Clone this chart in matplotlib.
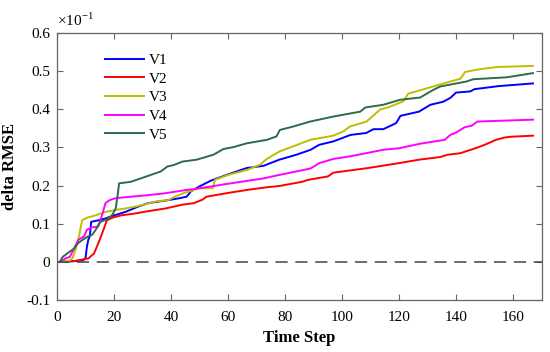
import matplotlib
matplotlib.use("Agg")
import matplotlib.pyplot as plt
from matplotlib.ticker import FixedLocator, FuncFormatter

plt.rcParams['font.family'] = ['Liberation Serif', 'DejaVu Serif']
plt.rcParams['mathtext.fontset'] = 'custom'
plt.rcParams['mathtext.rm'] = 'Liberation Serif'

# values (time step, delta RMSE in units of 1e-1)
t_v1 = [1, 6, 9, 10, 10.5, 11, 11.5, 12, 14.5, 17, 20.5, 24, 28.5, 32, 35.5, 39, 43, 45.5, 47, 50,
        54, 59.5, 66.5, 72.5, 78, 84, 89, 92, 97, 103, 108.5, 111, 114.5, 119, 120.5, 127, 131,
        135.5, 138, 140, 145, 146.5, 155, 167]
v1 = [0, 0.002, 0.004, 0.009, 0.04, 0.058, 0.067, 0.105, 0.109, 0.114, 0.123, 0.131, 0.145, 0.154,
      0.158, 0.162, 0.167, 0.171, 0.185, 0.198, 0.213, 0.228, 0.246, 0.252, 0.268, 0.281, 0.294,
      0.307, 0.316, 0.333, 0.338, 0.348, 0.348, 0.364, 0.383, 0.394, 0.412, 0.42, 0.43, 0.444,
      0.447, 0.453, 0.461, 0.468]

t_v2 = [1, 6, 11, 13, 14, 15, 16.5, 17.5, 19.5, 22.5, 27.5, 32, 38, 44, 48, 51, 52.5, 61, 67, 74,
        78, 86, 88, 95, 97, 109, 120, 127, 134.5, 137, 141.5, 146, 149, 151, 154, 157, 159, 167]
v2 = [0, 0.002, 0.009, 0.022, 0.04, 0.058, 0.088, 0.109, 0.116, 0.122, 0.127, 0.133, 0.14, 0.15,
      0.154, 0.163, 0.171, 0.182, 0.189, 0.196, 0.199, 0.21, 0.215, 0.224, 0.234, 0.246, 0.259,
      0.268, 0.275, 0.281, 0.285, 0.296, 0.304, 0.31, 0.32, 0.326, 0.328, 0.331]

t_v3 = [1, 4.3, 5.4, 6.5, 7.7, 8.8, 10.6, 13.5, 17, 20.4, 24, 27.5, 31, 34.5, 39, 41.4, 44.3, 50,
        54.7, 55.4, 60, 66.6, 71.3, 73.6, 78.2, 82.9, 88.8, 96.9, 100.4, 102.8, 108.6, 113.3,
        116.8, 121.5, 123.2, 127.4, 132, 138, 141.5, 143.2, 147.3, 154.3, 167]
v3 = [0, 0.003, 0.009, 0.031, 0.066, 0.109, 0.116, 0.122, 0.131, 0.136, 0.14, 0.145, 0.151, 0.158,
      0.162, 0.171, 0.18, 0.193, 0.193, 0.215, 0.228, 0.241, 0.255, 0.27, 0.29, 0.303, 0.32, 0.331,
      0.342, 0.355, 0.368, 0.399, 0.407, 0.421, 0.441, 0.45, 0.46, 0.473, 0.48, 0.498, 0.504,
      0.511, 0.514]

t_v4 = [1, 3, 4.5, 6, 7.5, 9.5, 10.5, 12, 14.5, 16, 17, 18.5, 20.5, 26, 32, 38, 44, 50, 61, 72.5,
        78, 89, 92, 97, 103, 114.5, 120, 127.5, 136, 138, 140, 143, 145.5, 147.5, 167]
v4 = [0, 0.009, 0.013, 0.035, 0.058, 0.067, 0.084, 0.09, 0.093, 0.127, 0.154, 0.162, 0.167, 0.171,
      0.175, 0.18, 0.187, 0.193, 0.206, 0.219, 0.228, 0.245, 0.259, 0.27, 0.277, 0.294, 0.298,
      0.31, 0.32, 0.333, 0.339, 0.353, 0.357, 0.368, 0.373]

t_v5 = [1, 2, 4.3, 6, 7.2, 9, 11, 12.3, 13.5, 15.2, 17.6, 19.4, 20.6, 21.2, 21.8, 25.9, 29.4, 32.9,
        36.4, 38.7, 41, 44, 49, 54.9, 58.4, 61.9, 66.6, 73.6, 77, 78.2, 82.9, 88.8, 96.9, 106.4,
        108.2, 114.5, 120.3, 127.4, 132, 134.5, 138, 143.7, 146, 157.8, 167]
v5 = [0, 0.013, 0.026, 0.035, 0.048, 0.058, 0.067, 0.071, 0.083, 0.105, 0.112, 0.123, 0.14, 0.17,
      0.206, 0.21, 0.219, 0.228, 0.237, 0.25, 0.254, 0.263, 0.268, 0.281, 0.296, 0.301, 0.311,
      0.32, 0.329, 0.346, 0.355, 0.368, 0.381, 0.394, 0.405, 0.412, 0.425, 0.431, 0.451, 0.46,
      0.465, 0.473, 0.479, 0.484, 0.495]

labels = ['V1', 'V2', 'V3', 'V4', 'V5']
colors = ['#0000FF', '#FF0000', '#BFBF00', '#FF00FF', '#2E6B4C']
x_ticks = [0, 20, 40, 60, 80, 100, 120, 140, 160]
y_ticks = [-0.1, 0, 0.1, 0.2, 0.3, 0.4, 0.5, 0.6]

fig = plt.figure(figsize=(5.5, 3.52), dpi=100)
ax = fig.add_axes([0.1036, 0.1477, 0.881, 0.7583])

series = [(t_v1, v1), (t_v2, v2), (t_v3, v3), (t_v4, v4), (t_v5, v5)]
for (t, v), lab, c in zip(series, labels, colors):
    ax.plot(t, v, color=c, lw=1.4, label=lab)

ax.axhline(0, color='#444444', lw=1.1, ls=(0, (8, 5)))

ax.set_xlim(0, 170)
ax.set_ylim(-0.1, 0.6)
ax.xaxis.set_major_locator(FixedLocator(x_ticks))
ax.yaxis.set_major_locator(FixedLocator(y_ticks))
ax.yaxis.set_major_formatter(FuncFormatter(lambda y, p: '0' if abs(y) < 1e-9 else f'{y:.1f}'))
ax.tick_params(direction='in', top=True, right=True, length=4, width=0.8,
               color='#666666', labelsize=11)
ax.tick_params(axis='x', pad=8)
ax.tick_params(axis='y', pad=5)
for s in ax.spines.values():
    s.set_color('#666666')
    s.set_linewidth(0.9)

ax.set_xlabel('Time Step', fontsize=12, fontweight='bold', labelpad=4)
ax.set_ylabel('delta RMSE', fontsize=12, fontweight='bold', labelpad=6)
ax.text(0.0, 1.015, r'$\times10^{-1}$', transform=ax.transAxes, fontsize=11,
        ha='left', va='bottom')

ax.legend(loc='upper left', bbox_to_anchor=(0.07, 0.975), frameon=False, fontsize=11,
          handlelength=2.6, handletextpad=0.3, labelspacing=0.32)

fig.savefig('out.png', dpi=100)
